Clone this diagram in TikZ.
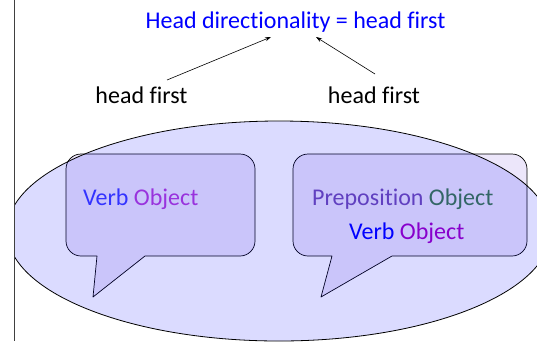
\documentclass[tikz,border=0pt]{standalone}
\usepackage{fontspec}
\setmainfont{Carlito}[Ligatures=NoCommon]
\usetikzlibrary{arrows.meta}
\definecolor{ellfill}{RGB}{0,0,255}
\definecolor{callfill}{RGB}{236,230,250}
\definecolor{verbA}{RGB}{51,51,255}
\definecolor{objA}{RGB}{153,51,221}
\definecolor{prepC}{RGB}{96,64,192}
\definecolor{objB}{RGB}{51,102,102}
\definecolor{verbB}{RGB}{0,0,255}
\definecolor{objC}{RGB}{136,0,204}
\begin{document}
\begin{tikzpicture}[x=1pt,y=1pt,
  txt/.style={inner sep=0pt,anchor=base,font=\fontsize{24}{28}\selectfont},
  txtw/.style={inner sep=0pt,anchor=base west,font=\fontsize{24}{28}\selectfont},
  callout/.style={fill=callfill,draw=black,line width=0.7pt,line join=round},
  arr/.style={-{Stealth[length=6pt,width=4pt]},line width=0.6pt}]
\useasboundingbox (0,0) rectangle (537,-341);
% callouts
\draw[callout] (81,-154) -- (240,-154) arc[start angle=90,end angle=0,radius=15pt]
  -- (255,-241) arc[start angle=0,end angle=-90,radius=15pt]
  -- (145,-256) -- (93,-297) -- (97,-256) -- (81,-256)
  arc[start angle=270,end angle=180,radius=15pt]
  -- (66,-169) arc[start angle=180,end angle=90,radius=15pt] -- cycle;
\draw[callout] (308,-154) -- (512,-154) arc[start angle=90,end angle=0,radius=15pt]
  -- (527,-241) arc[start angle=0,end angle=-90,radius=15pt]
  -- (392,-256) -- (321,-297) -- (332,-256) -- (308,-256)
  arc[start angle=270,end angle=180,radius=15pt]
  -- (293,-169) arc[start angle=180,end angle=90,radius=15pt] -- cycle;
% ellipse
\begin{scope}
  \clip (14,0) rectangle (537,-341);
  \draw[fill=ellfill,fill opacity=0.14,line width=0.8pt] (279,-231) ellipse[x radius=272,y radius=110];
\end{scope}
% left border line
\draw[line width=0.9pt,draw=black!75] (14,0) -- (14,-341);
% texts
\node[txt,text=blue] (title) at (295.5,-28) {Head directionality = head first};
\node[txt] (hfl) at (141.5,-103) {head first};
\node[txt] (hfr) at (374,-103) {head first};
\node[txtw] (vo1) at (83,-205) {\textcolor{verbA}{Verb} \textcolor{objA}{Object}};
\node[txtw] (po) at (312,-205) {\textcolor{prepC}{Preposition} \textcolor{objB}{Object}};
\node[txtw] (vo2) at (349,-239) {\textcolor{verbB}{Verb} \textcolor{objC}{Object}};
% arrows
\coordinate (la) at (167,-80);
\coordinate (lb) at (271,-37);
\coordinate (ra) at (375,-74);
\coordinate (rb) at (316,-37);
\draw[arr] (la) -- (lb);
\draw[arr] (ra) -- (rb);
\end{tikzpicture}
\end{document}
